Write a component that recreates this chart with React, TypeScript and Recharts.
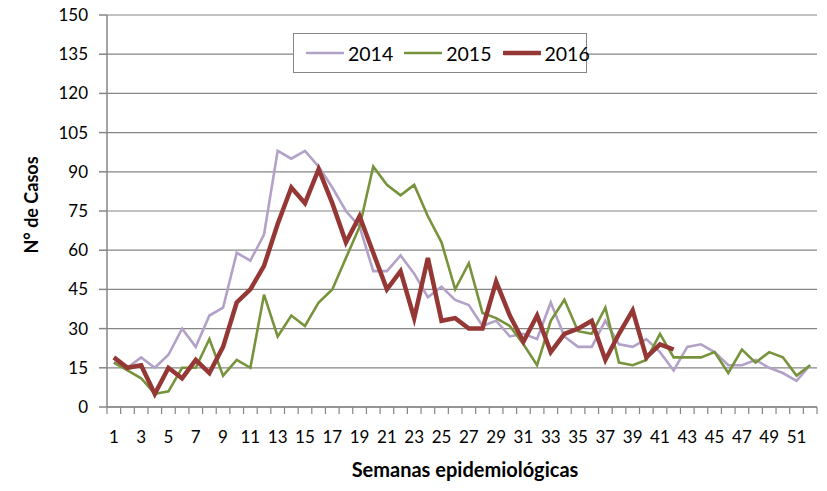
import { CartesianGrid, Line, LineChart, XAxis, YAxis } from "recharts";

const weeks = Array.from({ length: 52 }, (_, i) => i + 1);

const cases2014 = [
  17, 15, 19, 15, 20, 30, 23, 35, 38, 59,
  56, 66, 98, 95, 98, 92, 84, 75, 69, 52,
  52, 58, 51, 42, 46, 41, 39, 31, 33, 27,
  28, 26, 40, 27, 23, 23, 33, 24, 23, 26,
  21, 14, 23, 24, 21, 16, 16, 18, 15, 13, 10, 16,
];

const cases2015 = [
  17, 14, 11, 5, 6, 15, 15, 26, 12, 18,
  15, 43, 27, 35, 31, 40, 45, 57, 69, 92,
  85, 81, 85, 73, 63, 45, 55, 36, 34, 31,
  24, 16, 33, 41, 29, 28, 38, 17, 16, 18,
  28, 19, 19, 19, 21, 13, 22, 17, 21, 19, 12, 16,
];

const cases2016 = [
  19, 15, 16, 5, 15, 11, 18, 13, 23, 40,
  45, 54, 70, 84, 78, 91, 78, 63, 73, 59,
  45, 52, 34, 57, 33, 34, 30, 30, 48, 35,
  25, 35, 21, 28, 30, 33, 18, 28, 37, 19,
  24, 22,
];

const yTicks = [0, 15, 30, 45, 60, 75, 90, 105, 120, 135, 150];

const series = [
  { key: "y2014", name: "2014", color: "#b3a2c7", width: 2.6 },
  { key: "y2015", name: "2015", color: "#77933c", width: 2.6 },
  { key: "y2016", name: "2016", color: "#953735", width: 4.5 },
];

const data = weeks.map((w, i) => ({
  week: w,
  y2014: cases2014[i],
  y2015: cases2015[i],
  y2016: i < cases2016.length ? cases2016[i] : null,
}));

const W = 827;
const H = 491;
const LEFT = 107;
const RIGHT = 817;
const AXIS_Y = 407;
const BAND = (RIGHT - LEFT) / weeks.length;
const FONT = "Lato, 'Liberation Sans', Arial, sans-serif";
const AXIS_GREY = "#868686";

// ticks sit between weeks (Excel style), labels on odd weeks only
function WeekTick(props: any) {
  const { x, y, payload, index } = props;
  const left = x - BAND / 2;
  return (
    <g>
      <line x1={left} y1={AXIS_Y} x2={left} y2={AXIS_Y + 7} stroke={AXIS_GREY} strokeWidth={1.2} />
      {index === weeks.length - 1 && (
        <line x1={x + BAND / 2} y1={AXIS_Y} x2={x + BAND / 2} y2={AXIS_Y + 7} stroke={AXIS_GREY} strokeWidth={1.2} />
      )}
      {payload.value % 2 === 1 && (
        <text x={x} y={y} dy="0.71em" textAnchor="middle" fontSize={17} fontFamily={FONT} fill="#000">
          {payload.value}
        </text>
      )}
    </g>
  );
}

function LegendBox() {
  return (
    <div
      style={{
        position: "absolute",
        left: 293,
        top: 33,
        boxSizing: "border-box",
        width: 294,
        height: 40,
        background: "#fff",
        border: `1.5px solid ${AXIS_GREY}`,
        display: "flex",
        alignItems: "center",
        paddingLeft: 12,
        fontFamily: FONT,
        fontSize: 19.5,
        color: "#000",
      }}
    >
      {series.map((s) => (
        <div key={s.key} style={{ display: "flex", alignItems: "center", marginRight: 11 }}>
          <svg width={38} height={8} style={{ marginRight: 4 }}>
            <line x1={1} y1={4} x2={37} y2={4} stroke={s.color} strokeWidth={s.width} strokeLinecap="round" />
          </svg>
          <span>{s.name}</span>
        </div>
      ))}
    </div>
  );
}

export default function App() {
  return (
    <div style={{ width: W, height: H, position: "relative", background: "#fff" }}>
      <style>{`body { margin: 0; }`}</style>
      <LineChart width={W} height={H} data={data} margin={{ top: 15, right: W - RIGHT, left: 0, bottom: 0 }}>
        <CartesianGrid vertical={false} stroke={AXIS_GREY} strokeWidth={1.2} />
        <XAxis
          dataKey="week"
          scale="band"
          interval={0}
          height={H - AXIS_Y}
          tickLine={false}
          tickSize={7}
          tickMargin={17}
          tick={<WeekTick />}
          stroke={AXIS_GREY}
          strokeWidth={1.5}
          label={() => (
            <text x={465} y={477} textAnchor="middle" fontSize={20} fontWeight="bold" fontFamily={FONT} fill="#000">
              Semanas epidemiológicas
            </text>
          )}
        />
        <YAxis
          width={LEFT}
          domain={[0, 150]}
          ticks={yTicks}
          interval={0}
          tickSize={8}
          tickMargin={11}
          stroke={AXIS_GREY}
          strokeWidth={1.5}
          tick={{ fontSize: 17, fontFamily: FONT, fill: "#000" }}
          label={() => (
            <text
              x={31}
              y={205}
              transform="rotate(-90 31 205)"
              textAnchor="middle"
              dominantBaseline="central"
              fontSize={18}
              fontWeight="bold"
              fontFamily={FONT}
              fill="#000"
            >
              N° de Casos
            </text>
          )}
        />
        {series.map((s) => (
          <Line
            key={s.key}
            type="linear"
            dataKey={s.key}
            name={s.name}
            stroke={s.color}
            strokeWidth={s.width}
            dot={false}
            activeDot={false}
            connectNulls={false}
            isAnimationActive={false}
          />
        ))}
      </LineChart>
      <LegendBox />
    </div>
  );
}
